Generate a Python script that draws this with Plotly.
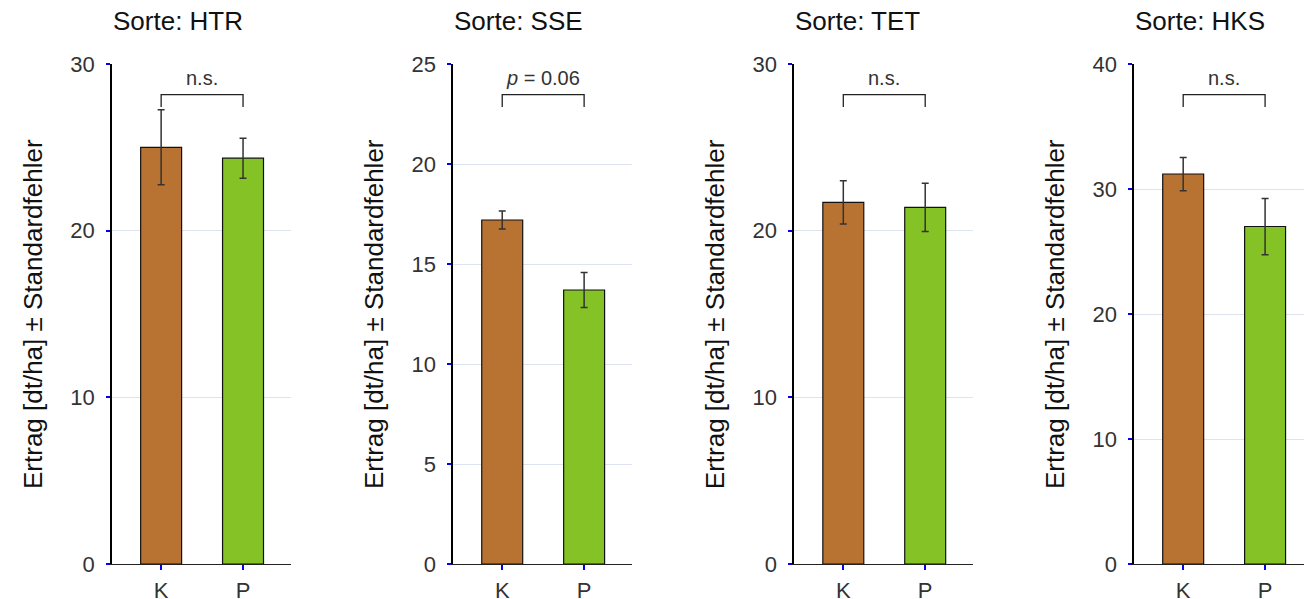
import plotly.graph_objects as go

sorten = ["HTR", "SSE", "TET", "HKS"]
categories = ["K", "P"]
means = [[25.0, 24.35], [17.2, 13.7], [21.7, 21.4], [31.2, 27.0]]
se = [[2.25, 1.2], [0.45, 0.87], [1.3, 1.45], [1.33, 2.25]]
y_max = [30, 25, 30, 40]
y_dtick = [10, 5, 10, 10]
sig_labels = ["n.s.", "<i>p</i> = 0.06", "n.s.", "n.s."]
bar_colors = ["#B87333", "#85C226"]

fig = go.Figure()
starts = [0.0, 0.284, 0.568, 0.851]
pw = 0.149
font_fam = "Liberation Sans, Arial, sans-serif"

for i, s in enumerate(sorten):
    n = "" if i == 0 else str(i + 1)
    fig.add_trace(go.Bar(
        x=categories, y=means[i], xaxis="x" + n, yaxis="y" + n,
        width=0.5,
        marker=dict(color=bar_colors, line=dict(color="#111", width=1.2)),
        error_y=dict(type="data", array=se[i], color="#333", thickness=1.5, width=3.5),
        showlegend=False,
    ))
    fig.layout["xaxis" + n] = dict(
        domain=[starts[i], starts[i] + pw], anchor="y" + n,
        range=[-0.6, 1.585], showline=True, linecolor="#222", linewidth=1.3,
        ticks="outside", tickcolor="blue", ticklen=5, tickwidth=1.5,
        tickfont=dict(size=22, color="#333", family=font_fam),
        ticklabelstandoff=1, automargin=False,
        showgrid=False, fixedrange=True,
    )
    fig.layout["yaxis" + n] = dict(
        domain=[0, 1], anchor="x" + n, range=[0, y_max[i]], dtick=y_dtick[i],
        showline=True, linecolor="#000", linewidth=1.5,
        ticks="outside", tickcolor="blue", ticklen=4, tickwidth=1.5,
        tickfont=dict(size=22, color="#333", family=font_fam),
        ticklabelstandoff=7, automargin=False,
        showgrid=True, gridcolor="#dde3ef", gridwidth=1, zeroline=False,
    )
    xd = "x" + n + " domain"
    yd = "y" + n + " domain"
    # bracket
    fig.add_shape(type="path", xref="x" + n, yref=yd,
                  path="M 0,0.914 L 0,0.9386 L 1,0.9386 L 1,0.914",
                  line=dict(color="#222", width=1.3))
    fig.add_annotation(xref="x" + n, yref=yd, x=0.5, y=0.972, yanchor="middle",
                       text=sig_labels[i],
                       showarrow=False, font=dict(size=20, color="#333", family=font_fam))
    fig.add_annotation(xref=xd, yref="paper", x=0, y=1, xanchor="left", yanchor="middle",
                       yshift=43, xshift=-1, text="Sorte: " + s, showarrow=False,
                       font=dict(size=26, color="#111", family=font_fam))
    fig.add_annotation(xref=xd, yref=yd, x=0, y=0.5, xshift=-96, textangle=-90,
                       text="Ertrag [dt/ha] ± Standardfehler", showarrow=False,
                       font=dict(size=26, color="#111", family=font_fam))

fig.update_layout(
    width=1312, height=599,
    margin=dict(l=104, r=7, t=56, b=43),
    plot_bgcolor="white", paper_bgcolor="white",
    bargap=0.5,
)
fig.write_html("out.html")
